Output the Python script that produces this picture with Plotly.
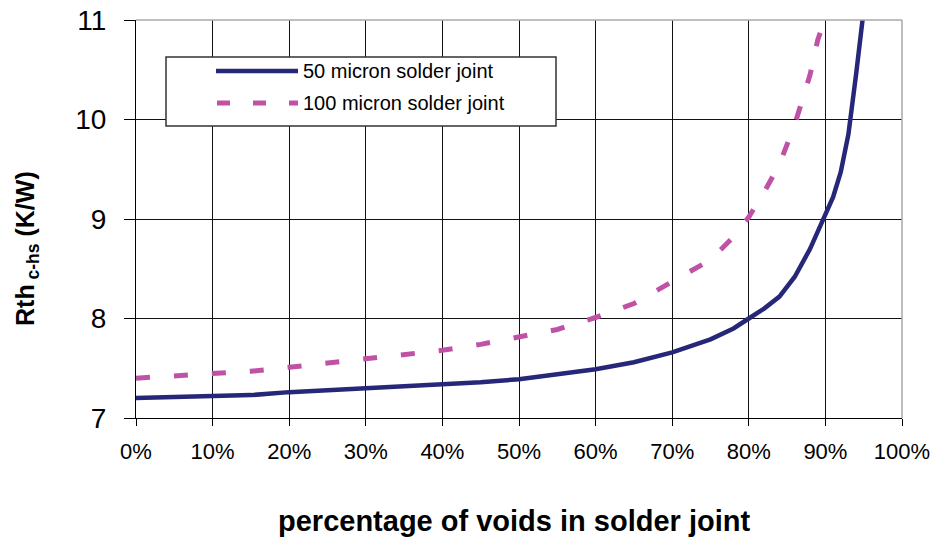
import plotly.graph_objects as go

# Void fraction (%) and thermal resistance case-to-heatsink (K/W)
voids_50 = [0, 5, 10, 15, 20, 25, 30, 35, 40, 45, 50, 55, 60, 65, 70, 75, 78,
            80, 82, 84, 86, 88, 90, 91, 92, 93, 94, 95]
rth_50 = [7.20, 7.21, 7.21, 7.23, 7.26, 7.28, 7.30, 7.31, 7.34, 7.36, 7.39,
          7.44, 7.49, 7.56, 7.66, 7.79, 7.90, 8.00, 8.10, 8.22, 8.42, 8.70,
          9.04, 9.22, 9.47, 9.85, 10.45, 11.10]

voids_100 = [0, 5, 10, 15, 20, 25, 30, 35, 40, 45, 50, 55, 60, 65, 70, 75,
             78, 80, 82, 84, 86, 88, 89, 90]
rth_100 = [7.40, 7.42, 7.45, 7.47, 7.51, 7.55, 7.59, 7.63, 7.68, 7.74, 7.82,
           7.89, 8.01, 8.15, 8.37, 8.59, 8.82, 9.02, 9.27, 9.55, 9.95, 10.45,
           10.80, 11.02]

series_names = ["50 micron solder joint", "100 micron solder joint"]
x_ticks = list(range(0, 101, 10))
x_tick_text = [f"{v}%" for v in x_ticks]
y_ticks = [7, 8, 9, 10, 11]

NAVY = "#27277A"
PINK = "#C052A6"
FONT = "Liberation Sans, Arial, sans-serif"

fig = go.Figure()
fig.add_trace(go.Scatter(x=voids_50, y=rth_50, mode="lines", name=series_names[0],
                         line=dict(color=NAVY, width=4.5), showlegend=False))
fig.add_trace(go.Scatter(x=voids_100, y=rth_100, mode="lines", name=series_names[1],
                         line=dict(color=PINK, width=5, dash="14px,24px"),
                         showlegend=False))

fig.update_layout(
    width=934, height=542,
    margin=dict(l=136, r=32, t=20, b=124),
    paper_bgcolor="white", plot_bgcolor="white",
    font=dict(family=FONT, color="black"),
    xaxis=dict(range=[0, 100], tickvals=x_ticks, ticktext=x_tick_text,
               showgrid=True, gridcolor="#111111", gridwidth=1,
               showline=True, linecolor="black", linewidth=1,
               ticks="outside", ticklen=7, tickcolor="black",
               tickfont=dict(size=22, family=FONT), ticklabelstandoff=7,
               zeroline=False, automargin=False),
    yaxis=dict(range=[7, 11], tickvals=y_ticks,
               showgrid=True, gridcolor="#111111", gridwidth=1,
               showline=True, linecolor="black", linewidth=1,
               ticks="outside", ticklen=11, tickcolor="black",
               tickfont=dict(size=28, family=FONT), ticklabelstandoff=12,
               zeroline=False, automargin=False),
)

# light frame on the top and right edges of the plot area
fig.add_shape(type="line", xref="paper", yref="paper", x0=0, x1=1, y0=1, y1=1,
              line=dict(color="#a8a8a8", width=1.5), layer="above")
fig.add_shape(type="line", xref="paper", yref="paper", x0=1, x1=1, y0=0, y1=1,
              line=dict(color="#a8a8a8", width=1.5), layer="above")

# legend box drawn in pixel-mapped paper coordinates
W, H, L, T = 766.0, 398.0, 136.0, 20.0


def px(x):
    return (x - L) / W


def py(y):
    return (T + H - y) / H


fig.add_shape(type="rect", xref="paper", yref="paper",
              x0=px(166), x1=px(556), y0=py(126), y1=py(57),
              fillcolor="white", line=dict(color="#333333", width=1.5), layer="above")
fig.add_shape(type="line", xref="paper", yref="paper",
              x0=px(216), x1=px(298), y0=py(71), y1=py(71),
              line=dict(color=NAVY, width=4.5), layer="above")
fig.add_shape(type="line", xref="paper", yref="paper",
              x0=px(217), x1=px(298), y0=py(103), y1=py(103),
              line=dict(color=PINK, width=5, dash="13px,23px"), layer="above")
for name, yy in zip(series_names, [71, 103]):
    fig.add_annotation(text=name, xref="paper", yref="paper", x=px(301), y=py(yy),
                       xanchor="left", yanchor="middle", showarrow=False,
                       font=dict(size=20, family=FONT, color="black"))

# axis titles
fig.add_annotation(text="<b>Rth<sub> c-hs</sub> (K/W)</b>", xref="paper", yref="paper",
                   x=px(27), y=py(249), xanchor="center", yanchor="middle",
                   textangle=-90, showarrow=False,
                   font=dict(size=25, family=FONT, color="black"))
fig.add_annotation(text="<b>percentage of voids in solder joint</b>",
                   xref="paper", yref="paper", x=px(514), y=py(521),
                   xanchor="center", yanchor="middle", showarrow=False,
                   font=dict(size=29, family=FONT, color="black"))

fig.write_html("out.html")
